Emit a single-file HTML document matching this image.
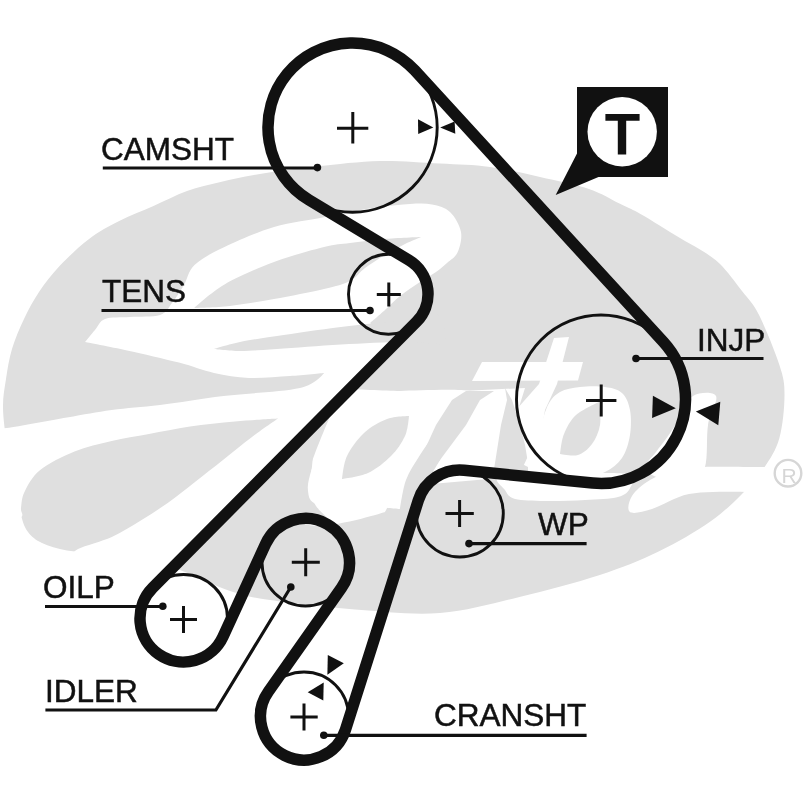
<!DOCTYPE html>
<html><head><meta charset="utf-8"><style>
html,body{margin:0;padding:0;background:#fff;}
svg{display:block;filter:blur(0.45px);}
text{font-family:"Liberation Sans", sans-serif;}
</style></head><body>
<svg width="805" height="805" viewBox="0 0 805 805">
<rect width="805" height="805" fill="#fff"/>
<g id="logo">
<path fill="#dfdfdf" d="M3.0 408.0 C2.8 397.0 4.5 388.8 6.0 379.0 C7.5 369.2 9.0 359.0 12.0 349.0 C15.0 339.0 19.5 328.5 24.0 319.0 C28.5 309.5 33.0 300.9 39.0 292.0 C45.0 283.1 51.6 274.5 60.0 265.6 C68.4 256.7 79.5 246.1 89.4 238.7 C99.3 231.2 108.5 226.3 119.2 220.9 C129.9 215.5 142.2 211.0 153.5 206.0 C164.8 201.0 175.8 195.0 187.0 191.0 C198.2 187.0 209.4 184.7 220.6 182.0 C231.8 179.3 242.4 177.1 254.0 175.0 C265.6 172.9 279.0 171.0 290.0 169.5 C301.0 168.0 305.0 167.4 320.0 166.0 C335.0 164.6 360.0 161.4 380.0 161.0 C400.0 160.6 421.7 162.6 440.0 163.6 C458.3 164.6 473.3 164.8 490.0 167.0 C506.7 169.2 523.5 173.3 540.0 177.0 C556.5 180.7 575.7 184.5 589.0 189.0 C602.3 193.5 611.5 199.7 620.0 203.8 C628.5 207.9 633.3 210.0 640.0 213.7 C646.7 217.3 653.3 221.6 660.0 225.7 C666.7 229.8 673.3 234.0 680.0 238.0 C686.7 242.0 693.3 245.2 700.0 249.5 C706.7 253.8 713.0 257.1 720.0 264.0 C727.0 270.9 735.5 282.5 742.0 291.0 C748.5 299.5 752.7 302.5 758.9 314.8 C765.1 327.1 775.1 351.6 779.4 365.0 C783.7 378.4 784.5 382.8 784.5 395.0 C784.5 407.2 782.8 425.8 779.4 438.0 C776.0 450.2 770.2 458.7 764.0 468.0 C757.8 477.3 751.0 485.1 742.0 494.0 C733.0 502.9 723.9 512.1 710.0 521.7 C696.1 531.3 677.1 542.6 658.6 551.5 C640.1 560.4 622.2 567.7 599.0 575.3 C575.8 582.9 546.0 590.7 519.5 597.0 C493.0 603.3 467.4 610.9 440.0 613.0 C412.6 615.1 383.3 611.7 355.0 609.5 C326.7 607.3 290.8 603.1 270.0 600.0 C249.2 596.9 244.2 595.7 230.0 591.0 C215.8 586.3 198.3 577.2 185.0 572.0 C171.7 566.8 160.8 562.8 150.0 560.0 C139.2 557.2 128.3 556.2 120.0 555.0 C111.7 553.8 108.8 553.2 100.0 552.5 C91.2 551.8 76.7 552.1 67.0 550.5 C57.3 548.9 48.5 546.1 42.0 543.0 C35.5 539.9 31.5 536.7 28.0 532.0 C24.5 527.3 23.3 523.7 21.0 515.0 C18.7 506.3 16.3 491.7 14.0 480.0 C11.7 468.3 8.8 457.0 7.0 445.0 C5.2 433.0 3.2 419.0 3.0 408.0 Z"/>
<path fill="#ffffff" d="M-5.0 426.0 C-5.0 426.0 -5.3 429.4 6.7 428.0 C18.7 426.6 49.5 420.5 67.0 417.5 C84.5 414.5 96.2 412.1 111.7 410.0 C127.2 407.9 141.3 407.3 160.0 405.0 C178.7 402.7 200.3 398.8 223.6 396.0 C246.9 393.2 283.3 391.8 300.0 388.0 C316.7 384.2 324.0 373.0 324.0 373.0 C324.0 373.0 302.5 375.2 290.0 376.0 C277.5 376.8 261.7 378.5 249.0 378.0 C236.3 377.5 225.7 375.6 214.0 373.0 C202.3 370.4 193.5 366.4 179.0 362.6 C164.5 358.8 142.7 353.8 127.0 350.4 C111.3 347.0 85.0 342.0 85.0 342.0 C85.0 342.0 91.7 333.8 95.0 330.0 C98.3 326.2 99.2 321.2 105.0 319.0 C110.8 316.8 120.8 317.7 130.0 317.0 C139.2 316.3 153.0 317.3 160.0 315.0 C167.0 312.7 168.0 308.0 172.0 303.0 C176.0 298.0 180.2 291.3 184.0 285.0 C187.8 278.7 187.8 271.3 194.5 265.0 C201.2 258.7 211.2 253.3 224.5 247.0 C237.8 240.7 257.4 231.9 274.0 227.0 C290.6 222.1 311.3 219.8 324.0 217.3 C336.7 214.8 340.7 213.7 350.0 212.0 C359.3 210.3 370.0 208.3 380.0 207.0 C390.0 205.7 401.3 204.4 410.0 204.0 C418.7 203.6 425.3 203.2 432.0 204.5 C438.7 205.8 445.2 207.4 450.0 212.0 C454.8 216.6 459.8 225.2 461.0 232.0 C462.2 238.8 459.8 247.4 457.5 252.6 C455.2 257.8 450.6 259.8 447.0 263.0 C443.4 266.2 440.5 268.8 436.0 272.0 C431.5 275.2 426.0 278.0 420.0 282.0 C414.0 286.0 405.8 291.3 400.0 296.0 C394.2 300.7 390.0 305.5 385.0 310.0 C380.0 314.5 370.0 323.0 370.0 323.0 C370.0 323.0 395.0 343.0 395.0 343.0 C395.0 343.0 385.3 353.2 380.6 358.0 C375.9 362.8 371.8 366.8 366.7 372.0 C361.6 377.2 350.0 389.0 350.0 389.0 C350.0 389.0 386.7 390.7 400.0 391.0 C413.3 391.3 430.0 391.0 430.0 391.0 C430.0 391.0 425.0 405.2 420.0 420.0 C415.0 434.8 405.8 464.7 400.0 480.0 C394.2 495.3 385.0 512.0 385.0 512.0 C385.0 512.0 308.8 536.7 300.0 520.0 C291.2 503.3 332.0 412.0 332.0 412.0 C332.0 412.0 276.7 468.3 250.0 495.0 C223.3 521.7 172.0 572.0 172.0 572.0 C172.0 572.0 137.0 568.3 120.0 566.0 C103.0 563.7 70.0 558.0 70.0 558.0 C70.0 558.0 71.0 552.5 78.0 549.0 C85.0 545.5 101.5 541.7 111.8 537.0 C122.1 532.3 130.7 526.7 140.0 521.0 C149.3 515.3 158.5 509.5 167.7 503.0 C176.9 496.5 185.7 489.2 195.0 482.0 C204.3 474.8 214.1 467.1 223.6 459.6 C233.1 452.1 242.9 443.8 252.0 437.0 C261.1 430.2 278.0 418.6 278.0 418.6 C278.0 418.6 249.7 420.2 235.0 421.5 C220.3 422.8 204.3 424.4 190.0 426.5 C175.7 428.6 162.1 431.6 149.0 434.0 C135.9 436.4 124.1 438.1 111.7 441.0 C99.3 443.9 86.4 446.7 74.5 451.5 C62.6 456.3 48.5 463.3 40.2 470.0 C31.9 476.7 27.8 485.4 24.6 491.7 C21.4 498.0 21.7 503.6 21.0 508.0 C20.3 512.4 24.8 514.3 20.5 518.0 C16.2 521.7 -5.0 530.0 -5.0 530.0 C-5.0 530.0 -5.0 426.0 -5.0 426.0 Z"/>
<path fill="#dfdfdf" d="M194.0 308.0 C194.0 308.0 211.2 292.1 224.5 284.4 C237.8 276.7 257.4 268.2 274.0 262.0 C290.6 255.8 311.3 250.2 324.0 247.0 C336.7 243.8 340.0 244.3 350.0 243.0 C360.0 241.7 372.2 240.0 384.0 239.0 C395.8 238.0 421.0 237.0 421.0 237.0 C421.0 237.0 411.0 241.0 405.0 244.0 C399.0 247.0 391.7 251.0 385.0 255.0 C378.3 259.0 370.8 263.7 365.0 268.0 C359.2 272.3 356.8 277.5 350.0 281.0 C343.2 284.5 336.7 286.0 324.0 289.0 C311.3 292.0 289.7 296.2 274.0 299.0 C258.3 301.8 243.3 304.5 230.0 306.0 C216.7 307.5 194.0 308.0 194.0 308.0 Z"/>
<path fill="#dfdfdf" d="M214.0 349.0 C214.0 349.0 229.5 344.2 240.0 342.0 C250.5 339.8 260.2 338.5 277.0 336.0 C293.8 333.5 319.5 329.7 341.0 327.0 C362.5 324.3 389.5 321.8 406.0 320.0 C422.5 318.2 433.5 311.8 440.0 316.0 C446.5 320.2 445.0 345.0 445.0 345.0 C445.0 345.0 423.3 342.1 406.0 342.0 C388.7 341.9 362.5 343.3 341.0 344.5 C319.5 345.7 293.8 347.9 277.0 349.0 C260.2 350.1 250.5 351.0 240.0 351.0 C229.5 351.0 214.0 349.0 214.0 349.0 Z"/>
<path fill="#dfdfdf" d="M300.0 525.0 C300.0 525.0 262.0 470.0 262.0 470.0 C262.0 470.0 281.7 456.2 290.0 452.0 C298.3 447.8 308.8 438.8 312.0 445.0 C315.2 451.2 309.0 489.0 309.0 489.0 C309.0 489.0 312.5 500.8 316.0 506.0 C319.5 511.2 330.0 520.0 330.0 520.0 C330.0 520.0 300.0 525.0 300.0 525.0 Z"/>
<path fill="#ffffff" d="M308.0 491.0 C307.3 486.3 308.3 481.3 310.0 475.0 C311.7 468.7 314.3 460.5 318.0 453.0 C321.7 445.5 326.7 437.2 332.0 430.0 C337.3 422.8 343.7 415.8 350.0 410.0 C356.3 404.2 361.7 398.2 370.0 395.0 C378.3 391.8 383.3 391.7 400.0 391.0 C416.7 390.3 461.3 388.7 470.0 391.0 C478.7 393.3 457.5 398.5 452.0 405.0 C446.5 411.5 442.3 421.7 437.0 430.0 C431.7 438.3 425.2 446.7 420.0 455.0 C414.8 463.3 409.3 471.0 406.0 480.0 C402.7 489.0 400.0 509.0 400.0 509.0 C400.0 509.0 384.5 508.2 380.0 506.0 C375.5 503.8 375.8 497.0 373.0 496.0 C370.2 495.0 368.5 497.8 363.0 500.0 C357.5 502.2 348.2 508.5 340.0 509.0 C331.8 509.5 319.3 506.0 314.0 503.0 C308.7 500.0 308.7 495.7 308.0 491.0 Z"/>
<path fill="#dfdfdf" d="M342.0 479.0 C342.0 479.0 343.3 463.7 347.0 456.0 C350.7 448.3 357.3 439.2 364.0 433.0 C370.7 426.8 379.5 421.8 387.0 419.0 C394.5 416.2 409.0 416.0 409.0 416.0 C409.0 416.0 408.0 429.3 405.0 436.0 C402.0 442.7 397.2 449.8 391.0 456.0 C384.8 462.2 376.2 469.2 368.0 473.0 C359.8 476.8 342.0 479.0 342.0 479.0 Z"/>
<path fill="#ffffff" d="M462.0 391.0 L525.0 388.0 L515.0 420.0 L505.0 450.0 L500.0 478.0 L420.0 485.0 L440.0 460.0 Z"/>
<path fill="#dfdfdf" d="M466.0 391.0 L494.0 391.0 L480.0 400.0 L466.0 425.0 L440.0 460.0 L428.0 480.0 L408.0 480.0 L420.0 460.0 L436.0 425.0 L452.0 400.0 Z"/>
<path fill="#dfdfdf" d="M505.0 388.0 L512.0 400.0 L520.0 425.0 L525.0 445.0 L528.0 463.0 L530.0 480.0 L492.0 480.0 L495.0 463.0 L501.0 425.0 L507.0 400.0 Z"/>
<path fill="#ffffff" d="M482.0 362.0 L583.0 362.0 L578.0 380.5 L472.0 381.0 Z"/>
<path fill="#ffffff" d="M554.0 338.0 L569.0 337.0 L557.0 384.0 L545.0 410.0 L540.0 440.0 L545.0 470.0 L528.0 478.0 L528.0 463.0 L525.0 445.0 L520.0 425.0 L516.0 410.0 L539.0 384.0 Z"/>
<path fill="#ffffff" d="M500.0 476.0 C509.2 473.3 538.7 474.3 560.0 474.0 C581.3 473.7 616.3 471.7 628.0 474.0 C639.7 476.3 631.7 484.2 630.0 488.0 C628.3 491.8 625.5 495.0 618.0 497.0 C610.5 499.0 597.2 499.3 585.0 500.0 C572.8 500.7 556.7 501.2 545.0 501.0 C533.3 500.8 521.7 500.8 515.0 499.0 C508.3 497.2 507.5 493.8 505.0 490.0 C502.5 486.2 490.8 478.7 500.0 476.0 Z"/>
<path fill="#ffffff" d="M540.0 430.0 C540.0 430.0 544.7 411.3 548.0 405.0 C551.3 398.7 554.7 395.0 560.0 392.0 C565.3 389.0 572.5 387.8 580.0 387.0 C587.5 386.2 598.0 386.0 605.0 387.0 C612.0 388.0 617.8 389.2 622.0 393.0 C626.2 396.8 628.7 403.0 630.0 410.0 C631.3 417.0 631.3 427.0 630.0 435.0 C628.7 443.0 626.2 451.8 622.0 458.0 C617.8 464.2 612.0 468.5 605.0 472.0 C598.0 475.5 588.3 478.0 580.0 479.0 C571.7 480.0 564.3 480.3 555.0 478.0 C545.7 475.7 524.0 465.0 524.0 465.0 C524.0 465.0 540.0 430.0 540.0 430.0 Z"/>
<path fill="#dfdfdf" d="M560.0 454.0 C560.0 454.0 561.3 440.5 564.0 434.0 C566.7 427.5 570.2 420.3 576.0 415.0 C581.8 409.7 599.0 402.0 599.0 402.0 C599.0 402.0 601.2 418.0 600.0 425.0 C598.8 432.0 595.7 439.0 592.0 444.0 C588.3 449.0 583.3 453.3 578.0 455.0 C572.7 456.7 560.0 454.0 560.0 454.0 Z"/>
<path fill="#ffffff" d="M693.0 396.0 C699.0 392.3 713.5 391.2 716.0 396.0 C718.5 400.8 709.8 413.2 708.0 425.0 C706.2 436.8 708.0 457.8 705.0 467.0 C702.0 476.2 697.5 478.2 690.0 480.0 C682.5 481.8 667.5 480.0 660.0 478.0 C652.5 476.0 645.7 472.3 645.0 468.0 C644.3 463.7 652.2 457.3 656.0 452.0 C659.8 446.7 664.0 441.7 668.0 436.0 C672.0 430.3 675.8 424.7 680.0 418.0 C684.2 411.3 687.0 399.7 693.0 396.0 Z"/>
<path fill="#ffffff" d="M630.0 512.0 C633.3 514.2 642.2 512.0 652.0 509.0 C661.8 506.0 674.5 496.9 689.0 494.0 C703.5 491.1 721.3 492.0 739.0 491.7 C756.7 491.4 785.7 496.3 795.0 492.0 C804.3 487.7 800.2 470.2 795.0 466.0 C789.8 461.8 779.2 466.8 764.0 467.0 C748.8 467.2 718.8 466.5 704.0 467.0 C689.2 467.5 684.0 467.8 675.0 470.0 C666.0 472.2 657.2 475.7 650.0 480.0 C642.8 484.3 635.3 490.7 632.0 496.0 C628.7 501.3 626.7 509.8 630.0 512.0 Z"/>
</g>
<g fill="none" stroke="#111" stroke-width="2.9">
<circle cx="352.5" cy="127.5" r="84.7"/>
<circle cx="601" cy="399.5" r="84.5"/>
<circle cx="459.8" cy="513.5" r="43.5"/>
<circle cx="304" cy="716.5" r="44.5"/>
<circle cx="305.5" cy="562.5" r="43.5"/>
<circle cx="183.5" cy="618.5" r="44"/>
<circle cx="388.5" cy="294.2" r="40"/>
</g>
<path d="M308.87 199.86 A84.50 84.50 0 1 1 414.83 70.45 L663.33 341.95 A84.50 84.50 0 0 1 592.58 483.08 L464.13 470.22 A43.50 43.50 0 0 0 418.34 500.33 L345.46 729.67 A43.50 43.50 0 1 1 268.45 691.44 L341.46 587.85 A44.00 44.00 0 1 0 265.51 544.14 L223.03 636.65 A43.50 43.50 0 1 1 152.62 587.86 L416.54 321.82 A39.50 39.50 0 0 0 408.90 260.17 Z" fill="none" stroke="#111" stroke-width="11.5" stroke-linejoin="round"/>
<g stroke="#111" stroke-width="3">
<path d="M337 128.3H368.3M352.8 112V143.6"/>
<path d="M586 400.4H616.4M601.2 384.5V416.4"/>
<path d="M445.5 513.4H473.8M459.6 500V527"/>
<path d="M291.8 562.2H319.8M305.7 548.3V576.2"/>
<path d="M170 619.6H197M183.5 606V633"/>
<path d="M290.4 717H317.7M304 703.5V730.5"/>
<path d="M376.8 294.4H400.8M388.8 282.4V306.5"/>
</g>
<g stroke="#111" stroke-width="3.2" fill="none">
<path d="M102.8 168H317.4"/>
<path d="M101.5 310.5H370"/>
<path d="M636 358.5H763.5"/>
<path d="M469 543.6H586.6"/>
<path d="M45 606.5H162.8"/>
<path d="M45.4 710H215.9L290.8 587"/>
<path d="M323.8 735.3H586.6"/>
</g>
<g fill="#111">
<circle cx="317.4" cy="167.6" r="3.8"/>
<circle cx="370" cy="310.5" r="3.8"/>
<circle cx="636" cy="358.5" r="3.8"/>
<circle cx="469" cy="543.6" r="3.8"/>
<circle cx="162.8" cy="606.3" r="3.8"/>
<circle cx="290.8" cy="587" r="3.8"/>
<circle cx="323.8" cy="735.3" r="3.8"/>
<polygon points="418,119.3 433.3,127.4 418.2,134.1"/>
<polygon points="440.2,127.4 454.6,121.5 455.3,133.7"/>
<polygon points="652.9,395.7 675.8,408.2 652.1,418"/>
<polygon points="695.9,411.5 720.3,401.8 718.3,425.3"/>
<polygon points="327.8,655.1 343.8,663.3 327.4,674.8"/>
<polygon points="323.7,682.6 307.7,692.3 323.3,700.5"/>
</g>
<g fill="#111" font-size="31.5" stroke="#111" stroke-width="0.5">
<text x="101" y="160.4">CAMSHT</text>
<text x="102" y="301.7">TENS</text>
<text x="697" y="350.8">INJP</text>
<text x="538" y="534.7">WP</text>
<text x="43" y="598.2">OILP</text>
<text x="45" y="702.3">IDLER</text>
<text x="434" y="725.6">CRANSHT</text>
</g>
<g>
<path d="M577 87H668V177H598.5L555.7 195L577 153.5Z" fill="#111"/>
<circle cx="622.2" cy="131.7" r="34.7" fill="#fff"/>
<path d="M605.4 113.9H639.6V120.7H626.2V154.6H617.8V120.7H605.4Z" fill="#111"/>
</g>
<g>
<circle cx="788" cy="473.2" r="13.3" fill="none" stroke="#d6d6d6" stroke-width="2.4"/>
<text x="781.5" y="482.5" font-size="21" fill="#d6d6d6">R</text>
</g>
</svg>
</body></html>
